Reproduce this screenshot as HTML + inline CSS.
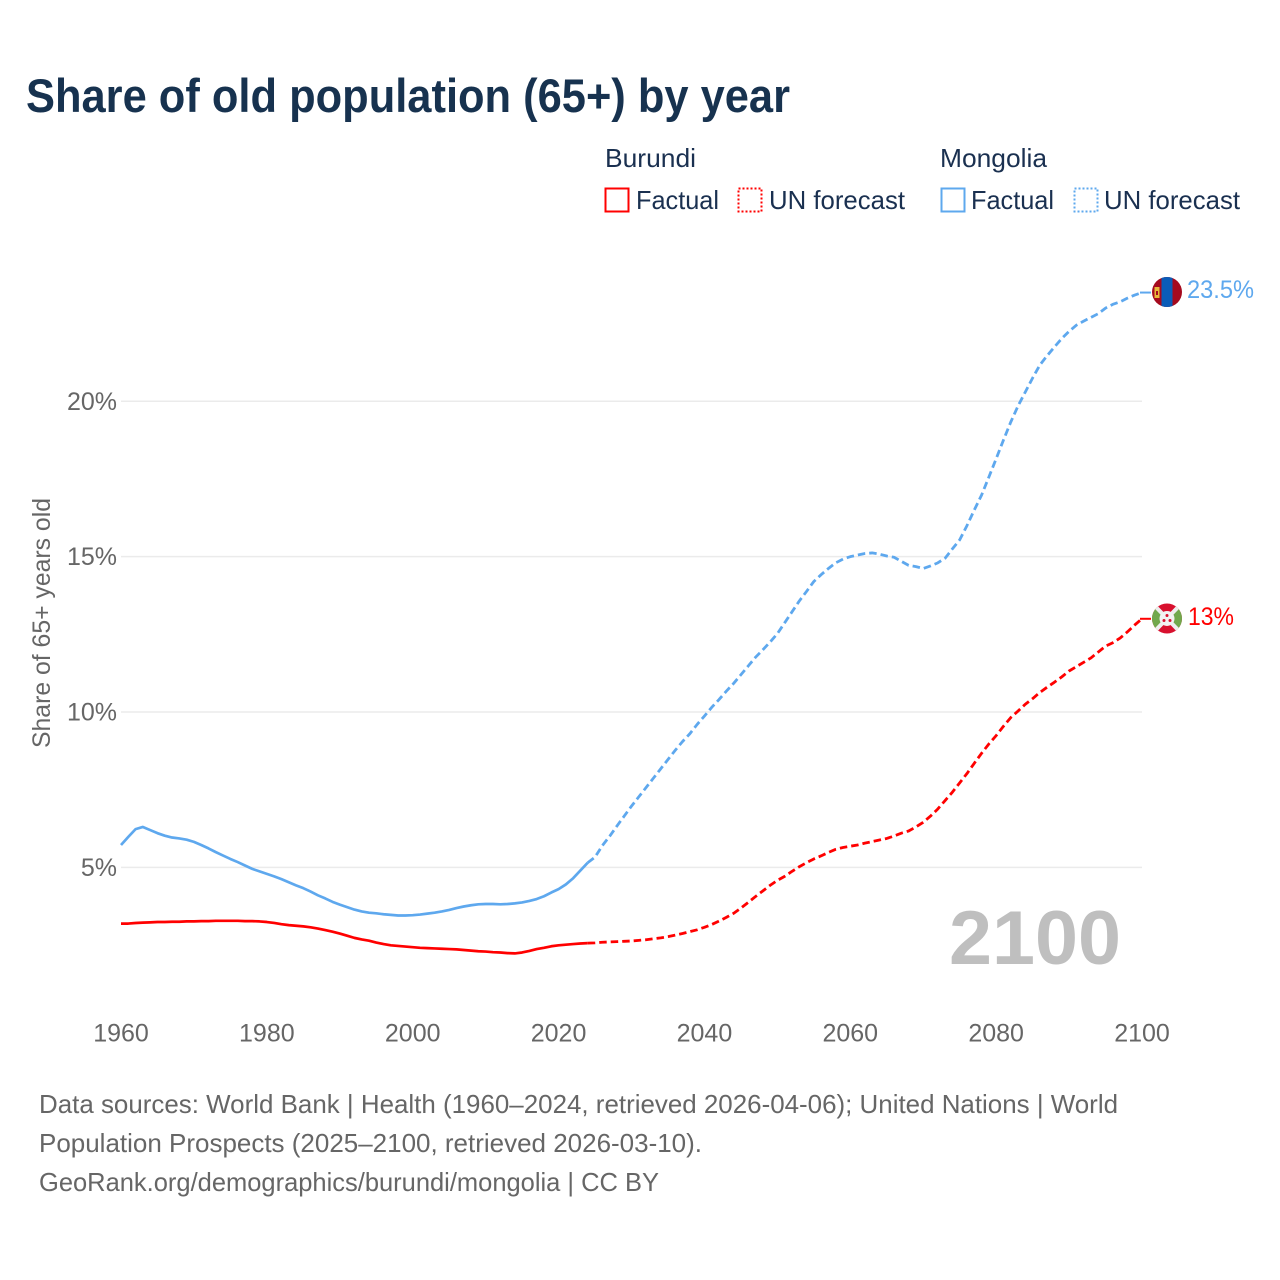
<!DOCTYPE html>
<html lang="en">
<head>
<meta charset="utf-8">
<title>Share of old population (65+) by year</title>
<style>
html,body{margin:0;padding:0;background:#fff;}
svg{display:block;font-family:"Liberation Sans",sans-serif;}
</style>
</head>
<body>
<svg id="chart" xmlns="http://www.w3.org/2000/svg" width="1280" height="1280" viewBox="0 0 1280 1280">
  <defs>
    <clipPath id="flag-clip-mn"><circle cx="1167" cy="292" r="15"/></clipPath>
    <clipPath id="flag-clip-bi"><circle cx="1167" cy="618.5" r="15"/></clipPath>
  </defs>
  <rect width="1280" height="1280" fill="#fff"/>
  <text x="26" y="112" font-size="47" font-weight="700" fill="#17324f" textLength="764" lengthAdjust="spacingAndGlyphs">Share of old population (65+) by year</text>

  <g font-size="26" fill="#1a3050">
    <text x="605" y="167" textLength="91" lengthAdjust="spacingAndGlyphs">Burundi</text>
    <text x="940" y="167" textLength="107" lengthAdjust="spacingAndGlyphs">Mongolia</text>
    <rect x="605.5" y="188.5" width="23" height="23" fill="none" stroke="#ff0000" stroke-width="2"/>
    <text x="636" y="209" textLength="83" lengthAdjust="spacingAndGlyphs">Factual</text>
    <rect x="738.5" y="188.5" width="23" height="23" fill="none" stroke="#ff0000" stroke-width="2" stroke-dasharray="2 2"/>
    <text x="769" y="209" textLength="136" lengthAdjust="spacingAndGlyphs">UN forecast</text>
    <rect x="941.5" y="188.5" width="23" height="23" fill="none" stroke="#5ea8ee" stroke-width="2"/>
    <text x="971" y="209" textLength="83" lengthAdjust="spacingAndGlyphs">Factual</text>
    <rect x="1074.5" y="188.5" width="23" height="23" fill="none" stroke="#5ea8ee" stroke-width="2" stroke-dasharray="2 2"/>
    <text x="1104" y="209" textLength="136" lengthAdjust="spacingAndGlyphs">UN forecast</text>
  </g>

  <text transform="translate(50,748) rotate(-90)" font-size="25" fill="#666" textLength="250" lengthAdjust="spacingAndGlyphs">Share of 65+ years old</text>

  <g id="grid"></g>
  <g id="yticks"></g>
  <g id="xticks"></g>

  <text id="year-label" x="949" y="964" font-size="76" font-weight="700" fill="#bfbfbf" textLength="172" lengthAdjust="spacingAndGlyphs"></text>

  <g id="series"></g>

  <g clip-path="url(#flag-clip-mn)">
    <rect x="1152" y="277" width="30" height="30" fill="#a50a1e"/>
    <rect x="1161.5" y="277" width="11" height="30" fill="#0a5cb8"/>
    <rect x="1154.5" y="287" width="5" height="11" fill="#e8b83a"/>
    <rect x="1156" y="291" width="2" height="4" fill="#a50a1e"/>
  </g>
  <g clip-path="url(#flag-clip-bi)">
    <rect x="1152" y="603" width="30" height="31" fill="#d8102e"/>
    <polygon points="1152,603 1167,618.5 1152,634" fill="#71a84c"/>
    <polygon points="1182,603 1167,618.5 1182,634" fill="#71a84c"/>
    <line x1="1152" y1="603" x2="1182" y2="634" stroke="#eee" stroke-width="4"/>
    <line x1="1182" y1="603" x2="1152" y2="634" stroke="#eee" stroke-width="4"/>
    <circle cx="1167" cy="618.5" r="7.5" fill="#f2f2f2"/>
    <circle cx="1167" cy="615.5" r="1.5" fill="#d8102e"/>
    <circle cx="1164" cy="620.5" r="1.5" fill="#d8102e"/>
    <circle cx="1170" cy="620.5" r="1.5" fill="#d8102e"/>
  </g>

  <text id="label-mn" x="1187" y="298" font-size="25" fill="#5ea8ee" textLength="67" lengthAdjust="spacingAndGlyphs"></text>
  <text id="label-bi" x="1188" y="625" font-size="25" fill="#ff0000" textLength="46" lengthAdjust="spacingAndGlyphs"></text>

  <g font-size="26" fill="#666">
    <text x="39" y="1113" textLength="1079" lengthAdjust="spacingAndGlyphs">Data sources: World Bank | Health (1960–2024, retrieved 2026-04-06); United Nations | World</text>
    <text x="39" y="1152" textLength="663" lengthAdjust="spacingAndGlyphs">Population Prospects (2025–2100, retrieved 2026-03-10).</text>
    <text x="39" y="1191" textLength="620" lengthAdjust="spacingAndGlyphs">GeoRank.org/demographics/burundi/mongolia | CC BY</text>
  </g>
</svg>
<script>
const xTickYears = [1960, 1980, 2000, 2020, 2040, 2060, 2080, 2100];
const yTickValues = [5, 10, 15, 20];
const factualStartYear = 1960;
const forecastStartYear = 2024;
const burundiFactual = [3.19,3.19,3.21,3.22,3.23,3.24,3.24,3.25,3.25,3.26,3.26,3.27,3.27,3.28,3.28,3.28,3.28,3.27,3.27,3.26,3.24,3.21,3.17,3.14,3.12,3.10,3.07,3.03,2.98,2.93,2.87,2.80,2.73,2.68,2.64,2.58,2.53,2.49,2.47,2.45,2.43,2.41,2.40,2.39,2.38,2.37,2.36,2.34,2.32,2.30,2.29,2.27,2.26,2.24,2.23,2.26,2.31,2.37,2.41,2.46,2.49,2.51,2.53,2.55,2.56];
const burundiForecast = [2.56,2.57,2.59,2.60,2.61,2.62,2.63,2.65,2.67,2.70,2.73,2.77,2.82,2.87,2.93,2.99,3.07,3.16,3.27,3.39,3.52,3.69,3.87,4.06,4.24,4.42,4.58,4.71,4.87,5.02,5.15,5.27,5.37,5.48,5.58,5.64,5.68,5.72,5.78,5.83,5.88,5.93,6.01,6.10,6.17,6.30,6.45,6.65,6.88,7.15,7.42,7.72,8.02,8.35,8.67,8.97,9.24,9.54,9.82,10.03,10.25,10.43,10.63,10.80,10.96,11.13,11.32,11.46,11.60,11.74,11.93,12.12,12.23,12.38,12.58,12.80,13.00];
const mongoliaFactual = [5.72,5.98,6.23,6.30,6.20,6.10,6.02,5.96,5.93,5.89,5.82,5.72,5.61,5.49,5.38,5.27,5.17,5.06,4.95,4.87,4.79,4.71,4.62,4.52,4.42,4.33,4.22,4.10,4.00,3.89,3.80,3.72,3.64,3.58,3.54,3.52,3.49,3.47,3.45,3.45,3.46,3.48,3.51,3.54,3.58,3.63,3.69,3.74,3.78,3.81,3.82,3.82,3.81,3.82,3.84,3.87,3.92,3.98,4.07,4.19,4.30,4.45,4.65,4.90,5.15];
const mongoliaForecast = [5.15,5.33,5.70,6.00,6.33,6.65,6.97,7.27,7.57,7.87,8.17,8.47,8.77,9.05,9.30,9.60,9.87,10.15,10.40,10.67,10.92,11.20,11.48,11.76,12.00,12.25,12.52,12.87,13.22,13.57,13.88,14.20,14.42,14.62,14.80,14.92,15.00,15.05,15.10,15.12,15.08,15.02,14.98,14.85,14.72,14.68,14.62,14.70,14.80,14.95,15.25,15.54,16.00,16.50,16.98,17.56,18.15,18.75,19.33,19.85,20.30,20.75,21.17,21.47,21.75,22.02,22.25,22.45,22.58,22.70,22.82,23.00,23.12,23.20,23.32,23.42,23.50];
const currentYear = 2100;
const mongoliaEndLabel = "23.5%";
const burundiEndLabel = "13%";

const SVG_NS = 'http://www.w3.org/2000/svg';
const xScale = function (year) { return 121 + (year - 1960) * (1021 / 140); };
const yScale = function (v) { return 1022.7 - v * 31.07; };

function linePath(values, startYear) {
  return values.map(function (v, i) {
    return (i ? 'L' : 'M') + xScale(startYear + i).toFixed(2) + ' ' + yScale(v).toFixed(2);
  }).join(' ');
}

const gridGroup = document.getElementById('grid');
const yGroup = document.getElementById('yticks');
const xGroup = document.getElementById('xticks');
const seriesGroup = document.getElementById('series');

yTickValues.forEach(function (v) {
  const line = document.createElementNS(SVG_NS, 'line');
  
  
  line.setAttribute('x1', xScale(1960));
  line.setAttribute('x2', xScale(2100));
  line.setAttribute('y1', yScale(v));
  line.setAttribute('y2', yScale(v));
  line.setAttribute('stroke', '#ebebeb');
  line.setAttribute('stroke-width', '1.5');
  gridGroup.appendChild(line);

  const label = document.createElementNS(SVG_NS, 'text');
  
  
  label.setAttribute('x', 117);
  label.setAttribute('y', yScale(v) + 8.5);
  label.setAttribute('text-anchor', 'end');
  label.setAttribute('font-size', '25');
  label.setAttribute('fill', '#666');
  label.textContent = v + '%';
  yGroup.appendChild(label);
});

xTickYears.forEach(function (year) {
  const label = document.createElementNS(SVG_NS, 'text');
  
  
  label.setAttribute('x', xScale(year));
  label.setAttribute('y', 1041.5);
  label.setAttribute('text-anchor', 'middle');
  label.setAttribute('font-size', '25');
  label.setAttribute('fill', '#666');
  label.textContent = year;
  xGroup.appendChild(label);
});

function addLine(name, values, startYear, color, dashed) {
  const path = document.createElementNS(SVG_NS, 'path');
  
  
  path.setAttribute('d', linePath(values, startYear));
  path.setAttribute('fill', 'none');
  path.setAttribute('stroke', color);
  path.setAttribute('stroke-width', dashed ? '2.8' : '2.7');
  path.setAttribute('stroke-linejoin', 'round');
  if (dashed) path.setAttribute('stroke-dasharray', '7.5 4');
  seriesGroup.appendChild(path);
}

function addConnector(name, value, color) {
  const line = document.createElementNS(SVG_NS, 'line');
  
  
  line.setAttribute('x1', xScale(2100) - 2);
  line.setAttribute('x2', xScale(2100) + 9);
  line.setAttribute('y1', yScale(value));
  line.setAttribute('y2', yScale(value));
  line.setAttribute('stroke', color);
  line.setAttribute('stroke-width', '2');
  seriesGroup.appendChild(line);
}

addLine('line-mongolia-factual', mongoliaFactual, factualStartYear, '#5ea8ee', false);
addLine('line-mongolia-forecast', mongoliaForecast, forecastStartYear, '#5ea8ee', true);
addLine('line-burundi-factual', burundiFactual, factualStartYear, '#ff0000', false);
addLine('line-burundi-forecast', burundiForecast, forecastStartYear, '#ff0000', true);
addConnector('end-connector-mongolia', mongoliaForecast[mongoliaForecast.length - 1], '#5ea8ee');
addConnector('end-connector-burundi', burundiForecast[burundiForecast.length - 1], '#ff0000');

document.getElementById('year-label').textContent = currentYear;
document.getElementById('label-mn').textContent = mongoliaEndLabel;
document.getElementById('label-bi').textContent = burundiEndLabel;
</script>
</body>
</html>
